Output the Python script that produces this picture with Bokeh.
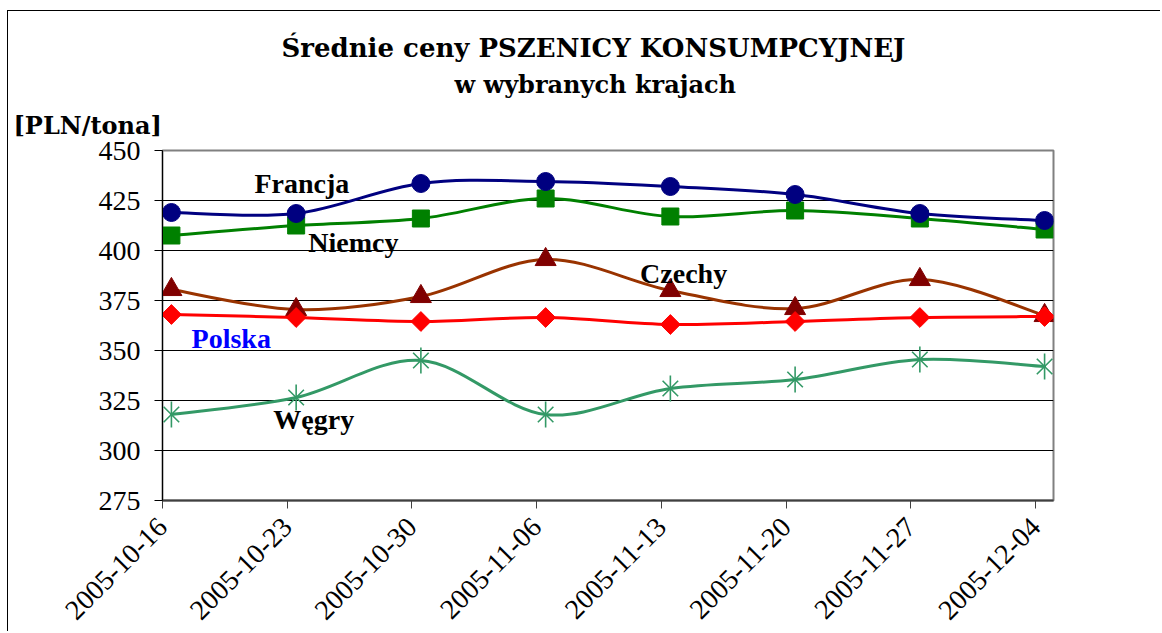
import numpy as np
import pandas as pd
from bokeh.plotting import figure
from bokeh.models import Range1d, FixedTicker, Label, Title
from bokeh.embed import file_html
from bokeh.resources import INLINE

# ---------------- data ----------------
dates = ["2005-10-16", "2005-10-23", "2005-10-30", "2005-11-06",
         "2005-11-13", "2005-11-20", "2005-11-27", "2005-12-04"]
francja = [419.0, 418.5, 433.5, 434.5, 432.0, 428.0, 418.5, 415.0]
niemcy = [407.5, 412.5, 416.0, 426.0, 417.0, 420.0, 416.0, 410.5]
czechy = [380.5, 370.5, 377.0, 395.5, 380.0, 371.0, 385.5, 367.5]
polska = [368.0, 366.5, 364.5, 366.5, 363.0, 364.5, 366.5, 367.0]
wegry = [318.0, 326.5, 345.0, 318.0, 331.0, 335.5, 345.5, 342.0]
y_ticks = [275, 300, 325, 350, 375, 400, 425, 450]

FONT = "Liberation Serif"
TITLE_FONT = "DejaVu Serif"

t0 = pd.Timestamp(dates[0])
day = [int((pd.Timestamp(d) - t0).days) for d in dates]
x_end = int((pd.Timestamp(dates[-1]) + pd.Timedelta(days=1) - t0).days)
xs = np.array(day, dtype=float) + 0.5   # date axis: points centred in their day


def smooth(x, y, t=1.0 / 6.0):
    """Bezier control points of an Excel-like smoothed line."""
    x = np.asarray(x, float)
    y = np.asarray(y, float)
    n = len(x)
    xp = np.concatenate([[x[0]], x, [x[-1]]])
    yp = np.concatenate([[y[0]], y, [y[-1]]])
    cx0 = x[:-1] + (x[1:] - xp[:n - 1]) * t
    cy0 = y[:-1] + (y[1:] - yp[:n - 1]) * t
    cx1 = x[1:] - (xp[3:] - x[:-1]) * t
    cy1 = y[1:] - (yp[3:] - y[:-1]) * t
    return dict(x0=x[:-1], y0=y[:-1], x1=x[1:], y1=y[1:],
                cx0=cx0, cy0=cy0, cx1=cx1, cy1=cy1)


W, H = 1153, 621
FL, FR, FT, FB = 154, 1045, 139, 489   # frame edges on the canvas
p = figure(width=W, height=H, output_backend="svg", toolbar_location=None,
           x_range=Range1d(0, x_end), y_range=Range1d(275, 450),
           min_border_left=FL, min_border_right=W - FR,
           min_border_top=FT, min_border_bottom=H - FB)
p.background_fill_color = "white"
p.border_fill_color = "white"
p.outline_line_color = "#808080"
p.outline_line_width = 2
p.styles = {"margin-left": "7px", "margin-top": "10px",
            "border-left": "1px solid black", "border-top": "1px solid black"}

# grid
p.xgrid.visible = False
p.ygrid.ticker = FixedTicker(ticks=y_ticks)
p.ygrid.grid_line_color = "black"
p.ygrid.grid_line_width = 1

# y axis
p.yaxis.ticker = FixedTicker(ticks=y_ticks)
p.yaxis.axis_line_color = "black"
p.yaxis.axis_line_width = 1
p.yaxis.major_tick_line_color = "black"
p.yaxis.major_tick_out = 8
p.yaxis.major_tick_in = 0
p.yaxis.minor_tick_line_color = None
p.yaxis.major_label_text_font = FONT
p.yaxis.major_label_text_font_size = "28px"
p.yaxis.major_label_text_color = "black"
p.yaxis.major_label_standoff = 14

# x axis
p.xaxis.ticker = FixedTicker(ticks=day)
p.xaxis.major_label_overrides = {d: s for d, s in zip(day, dates)}
p.xaxis.major_label_orientation = np.pi / 4
p.xaxis.axis_line_color = "#404040"
p.xaxis.axis_line_width = 2
p.xaxis.major_tick_line_color = "#404040"
p.xaxis.major_tick_out = 8
p.xaxis.major_tick_in = 0
p.xaxis.minor_tick_line_color = None
p.xaxis.major_label_text_font = FONT
p.xaxis.major_label_text_font_size = "28px"
p.xaxis.major_label_text_color = "black"
p.xaxis.major_label_standoff = 14

# series
series = [
    (wegry, "#339966", "#339966"),
    (czechy, "#993300", "#800000"),
    (polska, "#FF0000", "#FF0000"),
    (niemcy, "#008000", "#008000"),
    (francja, "#000080", "#000080"),
]
for vals, lc, mc in series:
    p.bezier(line_color=lc, line_width=3, line_cap="round", **smooth(xs, vals))
    if vals is wegry:
        p.scatter(xs, vals, marker="x", size=22, line_color=mc, line_width=1.6)
        p.scatter(xs, vals, marker="dash", size=26, angle=np.pi / 2,
                  line_color=mc, line_width=1.6)
    elif vals is czechy:
        p.scatter(xs, vals, marker="triangle", size=21, fill_color=mc, line_color=mc)
    elif vals is polska:
        p.scatter(xs, vals, marker="square", size=14, angle=np.pi / 4,
                  fill_color=mc, line_color=mc)
    elif vals is niemcy:
        p.scatter(xs, vals, marker="square", size=17, fill_color=mc, line_color=mc)
    else:
        p.scatter(xs, vals, marker="circle", size=18, fill_color=mc, line_color=mc)

# titles above the frame (first added sits next to the frame)
def title(text, offset, standoff, size):
    t = Title(text=text, align="left", offset=offset, standoff=standoff,
              vertical_align="middle")
    t.text_font = TITLE_FONT
    t.text_font_size = size
    t.text_font_style = "bold"
    t.text_color = "black"
    p.add_layout(t, "above")

title("[PLN/tona]", 5 - FL, 19, "24px")
title("w wybranych krajach", 446 - FL, 1, "24px")
title("Średnie ceny PSZENICY KONSUMPCYJNEJ", 273 - FL, 9, "26px")

# series names inside the plot
def lab(x, y, text, color="black"):
    p.add_layout(Label(x=x, y=y, text=text, text_font=FONT, text_font_size="28px",
                       text_color=color, text_font_style="bold",
                       text_align="left", text_baseline="alphabetic"))

lab(5.16, 433.3, "Francja")
lab(8.18, 403.8, "Niemcy")
lab(26.8, 388.3, "Czechy")
lab(1.63, 355.8, "Polska", color="#0000FF")
lab(6.22, 315.3, "Węgry")

open("out.html", "w").write(file_html(p, INLINE))
